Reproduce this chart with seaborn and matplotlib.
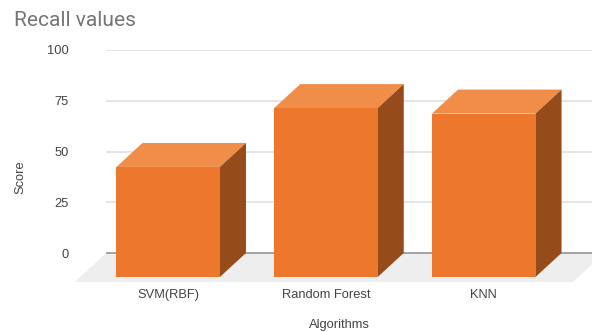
import matplotlib
matplotlib.use("Agg")
import matplotlib.pyplot as plt
from matplotlib.patches import Polygon
import pandas as pd
import seaborn as sns

algorithms = ["SVM(RBF)", "Random Forest", "KNN"]
recall = [54.2, 83.2, 80.5]
y_ticks = [0, 25, 50, 75, 100]

FRONT = "#ED772D"
TOP = "#F08E49"
SIDE = "#964C1A"
FLOOR = "#EEEEEE"
GRID = "#DEDEDE"
BASE = "#8C8C8C"
TEXT = "#444444"

# Oblique depth of the bars and of the floor, in data units
DEPTH_X = 0.165
DEPTH_Y = 11.8
FLOOR_X = 0.197
FLOOR_Y = 14.3
FLOOR_RIGHT = 2.597
TEXT_SIZE = 9.3

sns.set_theme(style="white")
plt.rcParams["font.family"] = ["Liberation Sans", "DejaVu Sans"]

W, H = 592, 332
fig = plt.figure(figsize=(W / 100, H / 100), dpi=100)
px_per_unit = (253 - 50) / 100
y_min = -15
bottom_px = 253 - y_min * px_per_unit
ax = fig.add_axes([106 / W, 1 - bottom_px / H, (592 - 106) / W, (bottom_px - 50) / H])

df = pd.DataFrame({"Algorithm": algorithms, "Recall": recall})
sns.barplot(data=df, x="Algorithm", y="Recall", color=FRONT, saturation=1,
            width=0.656, ax=ax, zorder=5)

ax.set_xlim(-0.559, 2.521)
ax.set_ylim(y_min, 100)

# Gridlines behind the bars, baseline in a darker grey
for tick in y_ticks:
    ax.plot([-0.559, 2.521], [tick, tick], color=BASE if tick == 0 else GRID,
            lw=1.1, zorder=2, solid_capstyle="butt")

# Floor in oblique projection; it overhangs the axes on both sides
floor = Polygon([(-0.559, 0), (FLOOR_RIGHT, 0), (FLOOR_RIGHT - FLOOR_X, -FLOOR_Y), (-0.559 - FLOOR_X, -FLOOR_Y)],
                closed=True, facecolor=FLOOR, edgecolor="none", zorder=1, clip_on=False)
ax.add_patch(floor)

# Shift each front face forward and add its top and side faces
for patch in ax.patches:
    if patch is floor:
        continue
    x0, w, v = patch.get_x(), patch.get_width(), patch.get_height()
    left, right = x0 - DEPTH_X, x0 + w - DEPTH_X
    patch.set_x(left)
    patch.set_y(-DEPTH_Y)
    patch.set_linewidth(0)
    top_y = v - DEPTH_Y
    ax.add_patch(Polygon([(left, top_y), (right, top_y), (right + DEPTH_X, v), (left + DEPTH_X, v)],
                         closed=True, facecolor=TOP, edgecolor="none", zorder=4))
    ax.add_patch(Polygon([(right, -DEPTH_Y), (right, top_y), (right + DEPTH_X, v), (right + DEPTH_X, 0)],
                         closed=True, facecolor=SIDE, edgecolor="none", zorder=4))

sns.despine(ax=ax, left=True, bottom=True, top=True, right=True)

ax.set_yticks(y_ticks)
ax.set_yticklabels([str(t) for t in y_ticks], fontsize=TEXT_SIZE, color=TEXT)
ax.tick_params(axis="y", length=0, pad=27)
ax.set_xticks([i - DEPTH_X for i in range(len(algorithms))])
ax.set_xticklabels(algorithms, fontsize=TEXT_SIZE, color=TEXT)
ax.tick_params(axis="x", length=0, pad=4)
ax.set_xlabel("")
ax.set_ylabel("")

fig.text(339 / W, 1 - 325 / H, "Algorithms", fontsize=TEXT_SIZE, color=TEXT, ha="center", va="center")
fig.text(20 / W, 1 - 177 / H, "Score", fontsize=TEXT_SIZE, color=TEXT, rotation=90, ha="center", va="center")
fig.text(14 / W, 1 - 20 / H, "Recall values", fontsize=15, color="#757575", ha="left", va="center",
         family=["Roboto", "DejaVu Sans"])

fig.savefig("out.png", dpi=100)
